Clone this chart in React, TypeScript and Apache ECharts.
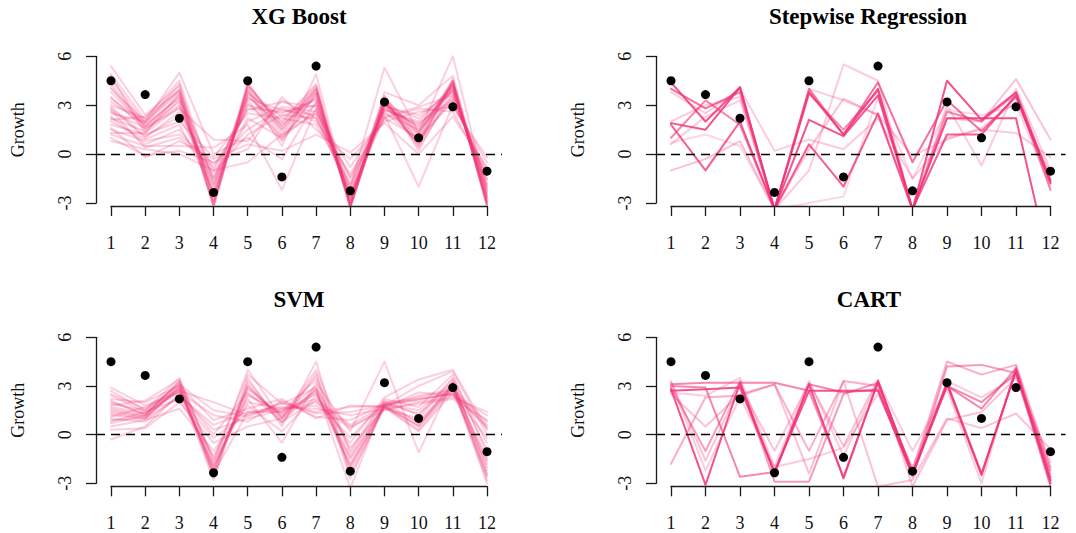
import React, { useEffect, useRef } from "react";
import * as echarts from "echarts";

// ---------- data ----------
const months = [1, 2, 3, 4, 5, 6, 7, 8, 9, 10, 11, 12];
const actualGrowth = [4.5, 3.65, 2.2, -2.35, 4.5, -1.4, 5.4, -2.25, 3.2, 1.0, 2.9, -1.05];
const yTicks = [-3, 0, 3, 6];

const xgBoostRuns = [
  [4.6, 1.9, 3.8, -3.3, 4.3, 1.6, 4.1, -3.3, 3.2, 0.9, 4.4, -3.1],
  [4.3, 1.7, 3.6, -3.1, 4.1, 1.2, 3.9, -3.2, 3.0, 0.7, 4.3, -3.0],
  [5.4, 2.4, 4.2, -2.8, 3.8, 2.0, 4.3, -3.0, 3.5, 1.2, 4.6, -2.8],
  [3.5, 1.5, 3.0, -2.0, 3.0, 2.5, 3.3, -2.6, 2.8, 1.8, 3.9, -2.2],
  [2.8, 1.0, 2.6, -1.4, 2.2, 1.0, 2.7, -2.4, 2.5, 1.5, 3.5, -1.9],
  [2.2, 1.4, 3.3, -2.5, 3.5, 1.8, 3.5, -2.9, 3.0, 2.2, 4.0, -2.6],
  [1.5, 0.8, 1.2, -0.6, 1.5, 2.8, 2.0, -1.2, 2.2, 1.0, 3.2, -1.0],
  [1.0, -0.1, 0.2, -0.5, 0.3, 3.5, 1.5, -0.3, 2.0, 2.6, 2.9, -0.2],
  [0.8, 0.3, 0.0, -1.0, -0.5, 1.2, 2.5, -0.8, 2.4, -2.0, 3.0, -0.5],
  [2.5, 2.0, 5.0, 0.0, 1.0, -0.3, 3.2, -2.0, 5.3, 1.3, 6.0, -2.4],
  [3.0, 2.2, 4.5, -1.8, 3.9, 0.5, 4.9, -3.1, 3.8, 3.0, 4.8, -2.9],
  [1.8, 1.2, 2.0, -0.2, 2.5, 2.2, 1.8, -1.8, 2.7, 1.9, 3.3, -1.5],
  [2.6, 1.6, 2.8, 0.9, 0.8, 3.3, 2.2, -2.2, 3.4, 0.4, 3.7, -2.0],
  [4.0, 2.0, 3.9, -2.9, 4.4, 1.4, 4.0, -3.3, 3.3, 0.5, 4.5, -3.2],
  [1.2, 0.5, 0.5, 0.4, 1.8, -2.2, 2.8, -1.5, 2.2, 2.8, 2.6, -1.2],
  [3.2, 1.8, 3.4, -1.0, 2.8, 2.6, 3.0, -2.7, 3.1, 1.6, 4.2, -2.5],
  [2.0, 0.9, 1.8, -2.2, 3.3, 0.8, 3.7, -3.0, 3.6, 0.2, 4.1, -2.7],
  [4.8, 1.3, 3.7, -3.2, 4.2, 1.9, 4.2, -3.2, 3.2, 1.1, 4.5, -3.2],
  [1.6, -0.2, 0.8, -0.3, 0.6, 0.2, 1.2, 0.1, 1.9, 0.0, 2.3, -0.8],
  [2.9, 1.1, 2.3, -1.6, 2.0, 2.9, 2.6, -2.0, 2.9, 2.4, 3.8, -1.8],
  [3.8, 1.7, 3.5, -2.4, 3.6, 1.5, 3.8, -2.8, 3.1, 1.3, 4.3, -2.9],
  [2.3, 0.6, 1.5, -1.1, 1.2, 2.4, 2.2, -1.4, 2.6, 0.8, 3.4, -1.3],
  [4.9, 2.1, 4.0, -3.0, 4.2, 1.7, 4.0, -3.3, 3.3, 0.8, 4.5, -3.1],
  [3.4, 1.9, 4.3, -2.6, 3.7, 2.3, 3.4, -3.1, 3.4, 1.4, 4.1, -2.6],
  [2.7, 0.4, 1.0, -0.8, 2.7, 3.2, 2.9, -2.5, 2.3, 2.9, 3.6, -1.6],
  [1.3, 1.3, 2.9, -1.9, 3.1, 1.1, 3.1, -2.3, 2.8, 1.7, 3.9, -2.3],
  [4.1, 1.6, 3.2, -3.1, 4.0, 0.9, 3.7, -3.2, 3.1, 0.6, 4.4, -3.0],
  [2.1, 2.3, 3.9, -1.5, 3.4, 2.7, 2.4, -2.6, 2.7, 2.0, 4.2, -2.1],
];

const stepwiseRuns = [
  [4.4, 2.0, 4.1, -3.4, 3.8, 1.2, 4.0, -3.4, 4.5, 2.1, 3.8, -1.6],
  [1.9, 1.5, 4.1, -3.4, 2.1, 1.1, 3.6, -3.4, 2.2, 2.2, 2.2, -7.0],
  [1.8, -1.0, 2.0, -3.4, 0.6, -2.0, 2.5, -3.4, 1.2, 1.2, 3.6, -1.8],
  [4.0, 2.8, 3.8, -3.4, 4.0, 1.2, 4.4, -0.5, 3.3, 1.4, 3.5, -1.7],
  [1.0, 3.3, 1.8, -3.4, 3.7, 1.5, 3.9, -3.4, 2.6, 2.0, 3.7, -2.2],
  [-1.0, -0.3, 0.8, -3.4, 0.3, 3.4, 2.4, -3.4, 2.2, 2.0, 4.6, 0.9],
  [3.8, 2.5, 4.0, 0.2, 0.9, 0.3, 2.2, -1.5, 1.0, 1.5, 1.3, -0.2],
  [0.6, 2.3, 3.3, -3.4, -1.0, 5.5, 4.5, -3.4, 3.0, -0.7, 4.0, -1.0],
  [2.0, 3.0, 3.5, -3.4, 4.0, 3.3, 2.4, -0.1, 0.9, 1.6, 3.2, -1.2],
  [0.7, 1.2, 0.5, -3.4, -3.0, -2.6, 3.5, -1.5, 2.7, 2.4, 3.0, -2.0],
];

const svmRuns = [
  [1.3, 1.0, 3.0, -2.3, 3.0, 1.0, 2.6, -2.0, 1.8, 0.5, 2.9, -2.5],
  [1.5, 1.1, 2.8, -2.0, 2.5, 1.3, 3.0, -1.5, 1.8, 0.8, 3.0, -1.5],
  [2.0, 1.3, 3.2, -2.6, 3.5, 0.5, 4.5, -2.5, 1.7, 0.3, 2.8, -2.8],
  [2.9, 1.8, 2.6, 1.2, 0.8, 2.1, 1.1, 0.9, 1.9, 2.1, 2.6, 0.4],
  [1.0, 0.8, 2.4, 0.6, 1.4, 1.7, 1.6, 1.2, 1.6, 1.9, 2.2, 0.9],
  [-0.3, 0.5, 2.5, 0.3, 1.0, 1.5, 2.0, 0.5, 1.5, 2.0, 2.3, 1.4],
  [0.5, 0.9, 1.6, -1.0, 1.8, 0.2, 2.4, -0.5, 2.3, 3.4, 4.0, 0.3],
  [1.8, 2.1, 3.4, -1.8, 4.0, 1.0, 3.6, -1.2, 2.1, 1.2, 3.5, -0.5],
  [2.5, 1.6, 2.7, 2.0, 1.2, 1.9, 1.4, 1.7, 1.8, 2.4, 2.8, 0.8],
  [0.8, 1.4, 2.2, -1.3, 2.2, -0.5, 3.2, 0.2, 4.5, -1.1, 3.3, -0.9],
  [1.2, 1.0, 2.9, -2.8, 3.3, 0.8, 2.8, -3.3, 2.0, 0.7, 3.1, -3.0],
  [2.2, 2.0, 3.0, 0.9, 1.6, 2.2, 1.0, 1.8, 1.7, 2.6, 2.4, 1.2],
  [1.6, 1.2, 3.1, -2.1, 2.8, 1.2, 2.7, -1.8, 1.9, 1.5, 3.2, -2.0],
  [0.3, 0.4, 2.0, -0.5, 0.5, 1.0, 4.0, -1.0, 2.2, 1.7, 3.7, -1.2],
  [1.9, 1.5, 3.5, -1.6, 2.0, 1.6, 2.2, 0.6, 1.8, 3.0, 3.9, 0.0],
  [1.1, 1.7, 2.8, -2.4, 1.4, 1.4, 3.4, -2.2, 1.7, 0.2, 2.6, -1.8],
  [2.4, 1.4, 2.6, 0.0, 2.6, 0.8, 2.1, -0.2, 2.0, 2.2, 2.5, -0.2],
  [0.7, 1.2, 3.3, -1.5, 3.7, 1.9, 2.9, -0.8, 1.6, 1.0, 3.4, -2.2],
  [1.4, 1.1, 2.9, -2.2, 2.9, 1.1, 2.8, -1.9, 1.7, 0.6, 2.9, -2.4],
  [2.7, 1.5, 3.1, 1.5, 1.1, 2.0, 1.3, 1.4, 1.8, 2.3, 2.7, 0.6],
  [1.7, 1.3, 2.7, -1.9, 2.4, 1.4, 2.5, -1.4, 1.9, 1.3, 3.0, -1.6],
  [0.9, 1.0, 2.3, -0.2, 1.3, 1.6, 1.8, 0.4, 1.7, 2.2, 2.5, 0.5],
  [2.1, 1.2, 3.3, -2.5, 3.1, 0.7, 3.8, -2.7, 1.8, 0.5, 3.2, -2.6],
];

const cartRuns = [
  [2.8, -3.1, 3.2, -2.4, 3.1, -2.7, 3.3, -2.4, 3.1, -2.5, 4.0, -3.0],
  [2.7, 2.8, 2.9, -2.3, 2.7, 2.7, 2.7, -2.5, 3.2, -2.4, 3.9, -2.8],
  [3.1, 3.2, 3.2, 3.2, 2.7, -2.6, 3.2, -2.3, 3.0, 1.6, 4.1, -2.6],
  [3.0, 2.9, -2.6, -2.3, 3.1, 2.6, 2.8, -2.5, 3.0, 2.0, 3.8, -3.2],
  [2.9, -1.0, 3.3, -2.9, -2.9, 2.5, 3.2, -2.6, 4.2, 4.3, 3.8, -2.2],
  [-1.8, 2.3, 2.4, 3.1, -1.0, 3.3, 3.0, -2.2, 4.5, 3.7, 4.3, -2.0],
  [3.3, -1.6, 3.0, -1.0, 3.2, -0.7, 3.4, -3.2, 0.9, 1.4, 3.5, -2.4],
  [2.5, 0.5, 2.5, 3.1, -2.4, 3.3, -3.2, -2.8, 1.0, 0.4, 1.3, -0.9],
  [3.2, -2.2, 2.3, -2.0, 3.3, -1.3, 3.3, -1.0, 2.8, -3.0, 4.2, -2.8],
  [2.6, 2.4, 3.5, -2.0, -1.5, -0.8, 2.5, -2.0, 3.3, 2.3, 3.6, -1.7],
];

// ---------- styles / layout ----------
const stepwiseAlpha = [0.85, 0.85, 0.8, 0.7, 0.6, 0.3, 0.25, 0.25, 0.25, 0.2];
const cartAlpha = [0.85, 0.85, 0.6, 0.6, 0.5, 0.4, 0.3, 0.3, 0.25, 0.25];
const LINE_COLOR = "#F2357A";
const FONT = "'Liberation Serif', 'Times New Roman', serif";

const panels = [
  { title: "XG Boost", runs: xgBoostRuns, alpha: null as number[] | null, xL: 111, xR: 487, yT: 56.3, yB: 203, titleX: 299, titleY: 5 },
  { title: "Stepwise Regression", runs: stepwiseRuns, alpha: stepwiseAlpha, xL: 671, xR: 1050.5, yT: 56.3, yB: 203, titleX: 868, titleY: 5 },
  { title: "SVM", runs: svmRuns, alpha: null as number[] | null, xL: 111, xR: 487, yT: 337.3, yB: 483.3, titleX: 299, titleY: 288 },
  { title: "CART", runs: cartRuns, alpha: cartAlpha, xL: 671, xR: 1050.5, yT: 337.3, yB: 483.3, titleX: 869, titleY: 288 },
];

function buildOption() {
  const grid: any[] = [];
  const xAxis: any[] = [];
  const yAxis: any[] = [];
  const series: any[] = [];
  const title: any[] = [];
  const axisColor = "#1a1a1a";

  panels.forEach((p, i) => {
    const pxX = (p.xR - p.xL) / 11;
    const pxY = (p.yB - p.yT) / 9;
    const padX = 15;
    const padY = 3;
    const dg = 2 * i;
    const ag = 2 * i + 1;
    grid.push({ left: p.xL - padX, top: p.yT - padY, width: p.xR - p.xL + 2 * padX, height: p.yB - p.yT + 2 * padY, containLabel: false });
    grid.push({ left: p.xL, top: p.yT, width: p.xR - p.xL, height: p.yB - p.yT, containLabel: false });

    xAxis.push({ type: "value", gridIndex: dg, min: 1 - padX / pxX, max: 12 + padX / pxX, show: false });
    yAxis.push({ type: "value", gridIndex: dg, min: -3 - padY / pxY, max: 6 + padY / pxY, show: false });

    xAxis.push({
      type: "value", gridIndex: ag, min: 1, max: 12, interval: 1, position: "bottom", offset: 3, z: 10,
      axisLine: { show: true, onZero: false, lineStyle: { color: axisColor, width: 1.3 } },
      axisTick: { show: true, inside: false, length: 10, lineStyle: { color: axisColor, width: 1.3 } },
      axisLabel: { show: true, margin: 28, fontSize: 18, fontFamily: FONT, color: "#111",
        formatter: (v: number) => (months.includes(v) ? String(v) : "") },
      splitLine: { show: false },
    });
    yAxis.push({
      type: "value", gridIndex: ag, min: yTicks[0], max: yTicks[yTicks.length - 1], interval: 3, position: "left", offset: 15, z: 10,
      axisLine: { show: true, onZero: false, lineStyle: { color: axisColor, width: 1.3 } },
      axisTick: { show: true, inside: false, length: 10, lineStyle: { color: axisColor, width: 1.3 } },
      axisLabel: { show: true, rotate: 90, margin: 22, fontSize: 18, fontFamily: FONT, color: "#111" },
      splitLine: { show: false },
      name: "Growth", nameLocation: "middle", nameRotate: 90, nameGap: 69,
      nameTextStyle: { fontSize: 18, fontFamily: FONT, color: "#111" },
    });

    p.runs.forEach((run, k) => {
      series.push({
        type: "line", xAxisIndex: dg, yAxisIndex: dg, silent: true, clip: true,
        symbol: "none", showSymbol: false, z: 2,
        data: months.map((m, j) => [m, run[j]]),
        lineStyle: { color: LINE_COLOR, width: 2, opacity: p.alpha ? p.alpha[k] : 0.24, join: "round", cap: "round" },
      });
    });

    series.push({
      type: "scatter", xAxisIndex: dg, yAxisIndex: dg, silent: true, z: 5,
      symbol: "circle", symbolSize: 9,
      itemStyle: { color: "#000", opacity: 1 },
      data: months.map((m, j) => [m, actualGrowth[j]]),
      markLine: {
        silent: true, symbol: ["none", "none"], label: { show: false },
        lineStyle: { color: "#000", width: 1.3, type: [9, 6] },
        data: [{ yAxis: 0 }],
      },
    });

    title.push({
      text: p.title, left: p.titleX, top: p.titleY, textAlign: "center", padding: 0,
      textStyle: { fontFamily: FONT, fontWeight: "bold", fontSize: 23, color: "#000" },
    });
  });

  return { animation: false, backgroundColor: "#fff", title, grid, xAxis, yAxis, series };
}

export default function App() {
  const ref = useRef<HTMLDivElement>(null);
  useEffect(() => {
    if (!ref.current) return;
    const chart = echarts.init(ref.current, undefined, { renderer: "svg" });
    chart.setOption(buildOption() as any);
    return () => chart.dispose();
  }, []);
  return <div ref={ref} style={{ position: "absolute", left: 0, top: 0, width: 1076, height: 533 }} />;
}
